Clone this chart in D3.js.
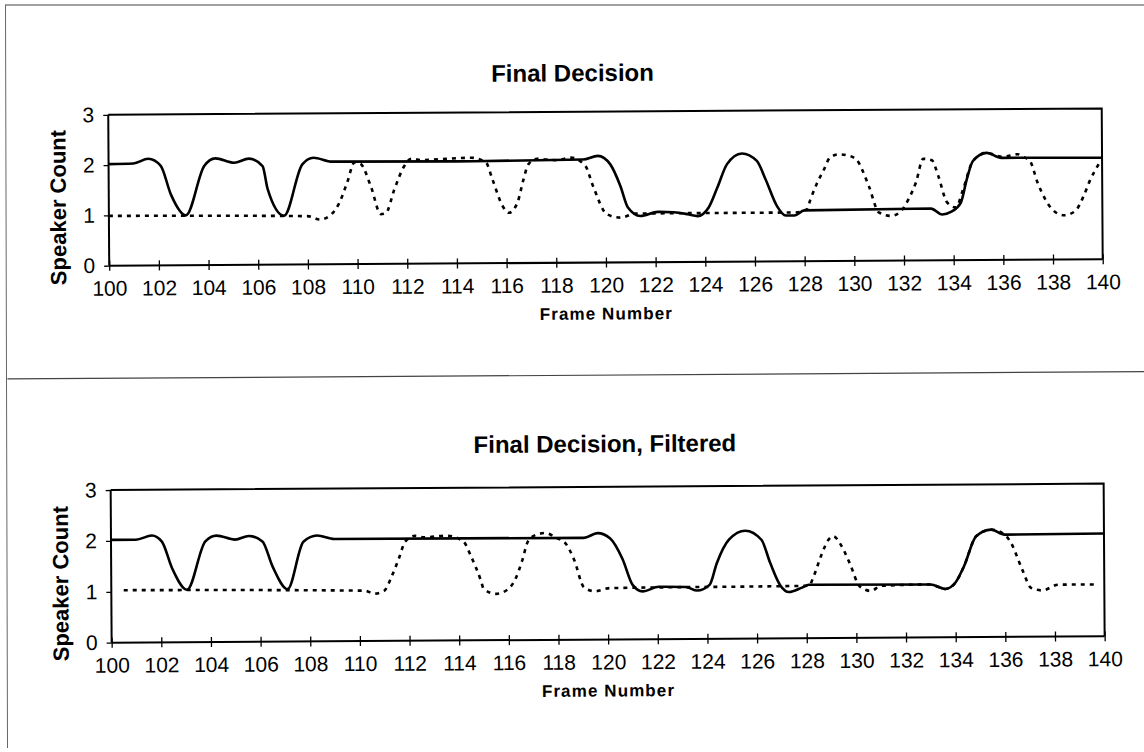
<!DOCTYPE html>
<html>
<head>
<meta charset="utf-8">
<script src="https://cdn.jsdelivr.net/npm/d3@7"></script>
<style>
  html, body { margin: 0; padding: 0; background: #fff; }
  svg { display: block; }
  text { font-family: "Liberation Sans", Arial, sans-serif; fill: #000; }
</style>
</head>
<body>
<svg id="page" width="1144" height="752"></svg>
<script>
// Frame ticks shared by both panels
const frameTicks = d3.range(100, 141, 2);
const countTicks = [0, 1, 2, 3];

// Panel 1: "Final Decision" – solid and dotted traces (frame, speaker count)
const decisionSolidFrames = [100,101.0,101.6,102.1,102.5,103.1,103.85,104.3,105.05,105.65,106.2,106.4,107.05,107.8,108.25,109.0,114.0,119.1,119.7,120.2,120.6,120.9,121.4,122.1,122.75,123.3,123.7,124.15,124.5,124.9,125.5,126.1,126.45,126.9,127.25,127.6,128.0,133.1,133.55,133.9,134.3,134.55,134.8,135.35,135.95,140];
const decisionSolidCounts = [2.02,2.03,2.12,1.98,1.41,0.99,1.97,2.12,2.03,2.11,1.96,1.5,0.97,1.99,2.12,2.04,2.03,2.05,2.12,1.95,1.52,1.09,0.92,1.0,0.99,0.95,0.91,1.08,1.47,1.94,2.15,2.0,1.63,1.1,0.91,0.91,1.01,1.03,0.91,0.96,1.14,1.61,1.97,2.13,2.03,2.02];

const decisionDottedFrames = [100,108.0,108.5,108.95,109.25,109.6,109.9,110.15,110.55,110.95,111.15,111.5,111.9,112.2,112.55,114.6,115.2,115.45,115.85,116.1,116.45,116.7,116.9,117.25,117.5,118.05,118.6,119.2,119.5,120.05,120.6,121.2,127.6,128.1,128.25,128.5,128.8,129.05,129.4,129.8,130.1,130.6,131.0,131.5,131.9,132.2,132.5,132.8,133.15,133.4,133.75,134.1,134.4,134.8,135.35,136.0,136.6,136.8,137.1,137.4,138.0,138.45,138.9,139.25,139.5,139.9];
const decisionDottedCounts = [0.99,0.96,0.89,0.99,1.19,1.62,2.02,1.99,1.55,0.99,1.01,1.48,1.94,2.09,2.06,2.1,2.0,1.67,1.14,1.0,1.2,1.66,1.96,2.07,2.06,2.04,2.09,1.92,1.52,0.96,0.89,0.97,0.97,1.03,1.23,1.53,1.82,2.06,2.12,2.09,2.02,1.49,0.96,0.89,0.99,1.22,1.55,2.02,1.99,1.68,1.15,1.05,1.41,1.97,2.13,2.05,2.1,2.05,1.96,1.53,0.99,0.88,0.96,1.26,1.56,1.92];

// Panel 2: "Final Decision, Filtered"
const filteredSolidFrames = [100,101.0,101.65,102.05,102.45,103.05,103.8,104.25,105.0,105.55,106.1,106.5,107.1,107.75,108.3,109.0,119.05,119.6,120.1,120.6,121.0,121.4,122.05,123.15,123.6,124.1,124.4,124.9,125.55,126.2,126.55,126.95,127.3,127.8,128.1,133.0,133.6,134.0,134.35,134.85,135.45,136.0,140];
const filteredSolidCounts = [2.02,2.02,2.1,1.98,1.46,1.03,1.98,2.09,2.01,2.08,1.97,1.48,1.03,1.96,2.08,2.01,2.0,2.09,1.99,1.58,1.07,0.94,1.03,1.02,0.95,1.06,1.49,1.95,2.12,1.94,1.48,1.04,0.91,0.99,1.05,1.04,0.95,1.07,1.39,1.98,2.11,2.01,2.02];

const filteredDottedFrames = [100.5,110.2,110.6,111.0,111.3,111.6,111.85,112.25,112.6,113.55,114.2,114.5,114.9,115.0,115.5,115.95,116.3,116.55,116.8,117.15,117.5,117.95,118.3,118.65,119.05,119.5,120.1,128.1,128.3,128.6,128.9,129.1,129.4,129.75,130.15,130.6,131.0,133.0,133.6,134.0,134.35,134.85,135.45,136.0,136.25,136.7,137.05,137.5,138.15,139.7];
const filteredDottedCounts = [1.03,0.99,0.93,0.99,1.27,1.63,1.95,2.06,2.03,2.06,1.94,1.65,1.16,1.01,0.91,0.99,1.22,1.55,1.94,2.07,2.1,2.0,1.9,1.57,1.02,0.95,1.01,1.03,1.22,1.62,1.93,2.0,1.83,1.47,1.01,0.92,1.02,1.04,0.95,1.07,1.39,1.98,2.11,2.01,1.85,1.32,0.96,0.91,1.02,1.02];

const zip = (xs, ys) => xs.map((x, i) => ({ frame: x, count: ys[i] }));

const panels = [
  { title: "Final Decision", titleX: 572, titleY: 85,
    plot: { left: 107.5, right: 1101, top: 115.5, bottom: 266.4 },
    solid: zip(decisionSolidFrames, decisionSolidCounts),
    dotted: zip(decisionDottedFrames, decisionDottedCounts) },
  { title: "Final Decision, Filtered", titleX: 602, titleY: 456,
    plot: { left: 107.5, right: 1100.5, top: 490.7, bottom: 643.4 },
    solid: zip(filteredSolidFrames, filteredSolidCounts),
    dotted: zip(filteredDottedFrames, filteredDottedCounts) }
];

const svg = d3.select("#page");

// Page frame: top edge and left edge
svg.append("line").attr("x1", 5).attr("y1", 5).attr("x2", 1144).attr("y2", 5)
  .attr("stroke", "#444").attr("stroke-width", 1.2);
svg.append("line").attr("x1", 5.5).attr("y1", 5).attr("x2", 7.5).attr("y2", 748)
  .attr("stroke", "#666").attr("stroke-width", 1);

// The chart sheet sits very slightly askew on the page
const sheet = svg.append("g").attr("transform", "rotate(-0.37)");

// Divider between the two panels
sheet.append("line").attr("x1", 5).attr("y1", 379).attr("x2", 1150).attr("y2", 379)
  .attr("stroke", "#444").attr("stroke-width", 1.2);

panels.forEach(p => {
  const g = sheet.append("g");
  const x = d3.scaleLinear().domain([100, 140]).range([p.plot.left, p.plot.right]);
  const y = d3.scaleLinear().domain([0, 3]).range([p.plot.bottom, p.plot.top]);

  // Title
  g.append("text").attr("x", p.titleX).attr("y", p.titleY)
    .attr("text-anchor", "middle").attr("font-weight", "bold").attr("font-size", 24)
    .text(p.title);

  // Plot box (top and right edges)
  g.append("path")
    .attr("d", `M${p.plot.left},${p.plot.top}H${p.plot.right}V${p.plot.bottom}`)
    .attr("fill", "none").attr("stroke", "#000").attr("stroke-width", 2);

  // X axis with crossing ticks
  const xAxis = d3.axisBottom(x).tickValues(frameTicks).tickFormat(d3.format("d"))
    .tickSize(5).tickPadding(10);
  const gx = g.append("g").attr("transform", `translate(0,${p.plot.bottom})`).call(xAxis);
  gx.select(".domain").attr("stroke-width", 2).attr("d", `M${p.plot.left},0H${p.plot.right}`);
  gx.selectAll(".tick line").attr("y1", -5).attr("y2", 5).attr("stroke-width", 1.3);
  gx.selectAll(".tick text").attr("font-size", 21);

  // Y axis with outward ticks
  const yAxis = d3.axisLeft(y).tickValues(countTicks).tickFormat(d3.format("d"))
    .tickSize(5).tickPadding(9);
  const gy = g.append("g").attr("transform", `translate(${p.plot.left},0)`).call(yAxis);
  gy.select(".domain").attr("stroke-width", 2).attr("d", `M0,${p.plot.top}V${p.plot.bottom}`);
  gy.selectAll(".tick line").attr("stroke-width", 1.3);
  gy.selectAll(".tick text").attr("font-size", 21);

  // Axis titles
  g.append("text")
    .attr("x", (p.plot.left + p.plot.right) / 2).attr("y", p.plot.bottom + 57)
    .attr("text-anchor", "middle").attr("font-weight", "bold").attr("font-size", 17)
    .attr("letter-spacing", 1.1).text("Frame Number");
  g.append("text")
    .attr("transform", `translate(${p.plot.left - 43},${(p.plot.top + p.plot.bottom) / 2 + 17}) rotate(-90)`)
    .attr("text-anchor", "middle").attr("font-weight", "bold").attr("font-size", 22)
    .text("Speaker Count");

  const line = d3.line().x(d => x(d.frame)).y(d => y(d.count)).curve(d3.curveMonotoneX);

  g.append("path").datum(p.dotted).attr("d", line)
    .attr("fill", "none").attr("stroke", "#000").attr("stroke-width", 2.6)
    .attr("stroke-dasharray", "4 5");
  g.append("path").datum(p.solid).attr("d", line)
    .attr("fill", "none").attr("stroke", "#000").attr("stroke-width", 2.6)
    .attr("stroke-linejoin", "round");
});
</script>
</body>
</html>
